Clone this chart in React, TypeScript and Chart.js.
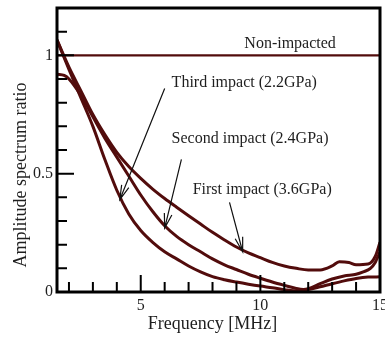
import React, { useEffect, useRef } from "react";
import { Chart, registerables } from "chart.js";

Chart.register(...registerables);

// ---- Data ----
const xRange = [1.5, 15];
const yRange = [0, 1.2];
const xMajorTicks = [5, 10, 15];
const xMinorTicks = [2, 3, 4, 6, 7, 8, 9, 11, 12, 13, 14];
const yMajorTicks = [0, 0.5, 1];
const yMinorTicks = [0.1, 0.2, 0.3, 0.4, 0.6, 0.7, 0.8, 0.9, 1.1];

const nonImpactedFreq = [1.5, 15];
const nonImpactedAmp = [1, 1];

const firstFreq = [1.5, 2, 2.5, 3, 3.5, 4, 4.5, 5, 5.5, 6, 6.5, 7, 7.5, 8, 8.5, 9, 9.5, 10, 10.5, 11, 11.5, 12, 12.5, 13, 13.3, 13.7, 14, 14.5, 14.8, 15];
const firstAmp = [1.065, 0.95, 0.85, 0.75, 0.665, 0.59, 0.53, 0.48, 0.435, 0.395, 0.358, 0.322, 0.287, 0.252, 0.22, 0.19, 0.165, 0.145, 0.125, 0.11, 0.1, 0.093, 0.093, 0.11, 0.128, 0.125, 0.115, 0.118, 0.15, 0.21];

const secondFreq = [1.5, 1.8, 2, 2.5, 3, 3.5, 4, 4.5, 5, 5.5, 6, 6.5, 7, 7.5, 8, 8.5, 9, 9.5, 10, 10.5, 11, 11.5, 11.8, 12, 12.5, 13, 13.5, 14, 14.3, 14.6, 14.8, 15];
const secondAmp = [0.92, 0.915, 0.9, 0.83, 0.74, 0.65, 0.57, 0.49, 0.41, 0.34, 0.28, 0.235, 0.2, 0.17, 0.14, 0.115, 0.095, 0.075, 0.058, 0.042, 0.028, 0.015, 0.011, 0.014, 0.035, 0.055, 0.068, 0.075, 0.085, 0.1, 0.125, 0.17];

const thirdFreq = [1.5, 2, 2.5, 3, 3.5, 4, 4.5, 5, 5.5, 6, 6.5, 7, 7.5, 8, 8.5, 9, 9.5, 10, 10.5, 11, 11.6, 12, 12.5, 13, 13.5, 14, 14.5, 15];
const thirdAmp = [1.065, 0.94, 0.82, 0.7, 0.56, 0.43, 0.33, 0.26, 0.21, 0.17, 0.14, 0.11, 0.085, 0.065, 0.052, 0.042, 0.033, 0.025, 0.018, 0.01, 0.004, 0.01, 0.022, 0.035, 0.047, 0.057, 0.063, 0.064];

// annotations: label text, label anchor (x, y), arrow start (x, y), arrow tip (x, y)
const labelTexts = ["Non-impacted", "Third impact (2.2GPa)", "Second impact (2.4GPa)", "First impact (3.6GPa)"];
const labelX = [9.33, 6.29, 6.29, 7.17];
const labelY = [1.05, 0.882, 0.648, 0.43];
const arrowFromX = [null, 6.0, 6.7, 8.71];
const arrowFromY = [null, 0.86, 0.56, 0.379];
const arrowToX = [null, 4.125, 6.0, 9.26];
const arrowToY = [null, 0.39, 0.27, 0.17];

const xTitle = "Frequency [MHz]";
const yTitle = "Amplitude spectrum ratio";

const curveColor = "#520c0c";
const textColor = "#1e1e1e";
const serif = "'Liberation Serif', 'Times New Roman', serif";

const toPoints = (xs: number[], ys: number[]) => xs.map((x, i) => ({ x, y: ys[i] }));

const framePlugin = {
  id: "frameTicks",
  afterDraw(chart: any) {
    const { ctx, chartArea: a, scales } = chart;
    const xs = scales.x;
    const ys = scales.y;
    ctx.save();
    ctx.strokeStyle = "#000";
    ctx.lineWidth = 2;
    ctx.beginPath();
    for (const v of xMajorTicks) {
      const px = xs.getPixelForValue(v);
      ctx.moveTo(px, a.bottom);
      ctx.lineTo(px, a.bottom - 17);
    }
    for (const v of xMinorTicks) {
      const px = xs.getPixelForValue(v);
      ctx.moveTo(px, a.bottom);
      ctx.lineTo(px, a.bottom - 10);
    }
    for (const v of yMajorTicks) {
      const py = ys.getPixelForValue(v);
      ctx.moveTo(a.left, py);
      ctx.lineTo(a.left + 17, py);
    }
    for (const v of yMinorTicks) {
      const py = ys.getPixelForValue(v);
      ctx.moveTo(a.left, py);
      ctx.lineTo(a.left + 10, py);
    }
    ctx.stroke();
    ctx.lineWidth = 3;
    ctx.strokeRect(a.left, a.top, a.right - a.left, a.bottom - a.top);

    // axis titles
    ctx.fillStyle = textColor;
    ctx.font = `18px ${serif}`;
    ctx.textAlign = "center";
    ctx.textBaseline = "middle";
    ctx.fillText(xTitle, (a.left + a.right) / 2 - 6, a.bottom + 32);
    ctx.save();
    ctx.translate(a.left - 36, (a.top + a.bottom) / 2 + 25);
    ctx.rotate(-Math.PI / 2);
    ctx.fillText(yTitle, 0, 0);
    ctx.restore();

    // annotations
    ctx.font = `16px ${serif}`;
    ctx.textAlign = "left";
    ctx.textBaseline = "middle";
    labelTexts.forEach((t, i) => {
      ctx.fillText(t, xs.getPixelForValue(labelX[i]), ys.getPixelForValue(labelY[i]));
    });
    ctx.strokeStyle = "#111";
    ctx.lineWidth = 1.2;
    labelTexts.forEach((_, i) => {
      const fx = arrowFromX[i];
      if (fx === null) return;
      const x0 = xs.getPixelForValue(fx);
      const y0 = ys.getPixelForValue(arrowFromY[i] as number);
      const x1 = xs.getPixelForValue(arrowToX[i] as number);
      const y1 = ys.getPixelForValue(arrowToY[i] as number);
      const ang = Math.atan2(y1 - y0, x1 - x0);
      const hl = 15;
      const spread = 0.26;
      ctx.beginPath();
      ctx.moveTo(x0, y0);
      ctx.lineTo(x1, y1);
      ctx.moveTo(x1 - hl * Math.cos(ang - spread), y1 - hl * Math.sin(ang - spread));
      ctx.lineTo(x1, y1);
      ctx.lineTo(x1 - hl * Math.cos(ang + spread), y1 - hl * Math.sin(ang + spread));
      ctx.stroke();
    });
    ctx.restore();
  },
};

export default function App() {
  const ref = useRef<HTMLCanvasElement | null>(null);
  useEffect(() => {
    if (!ref.current) return;
    const lineDs = (label: string, xs: number[], ys: number[], width: number) => ({
      label,
      data: toPoints(xs, ys),
      borderColor: curveColor,
      backgroundColor: curveColor,
      borderWidth: width,
      pointRadius: 0,
      tension: 0.4,
      cubicInterpolationMode: "monotone" as const,
      fill: false,
    });
    const chart = new Chart(ref.current, {
      type: "line",
      data: {
        datasets: [
          lineDs("Non-impacted", nonImpactedFreq, nonImpactedAmp, 2.2),
          lineDs("First impact (3.6GPa)", firstFreq, firstAmp, 3),
          lineDs("Second impact (2.4GPa)", secondFreq, secondAmp, 3),
          lineDs("Third impact (2.2GPa)", thirdFreq, thirdAmp, 3),
        ],
      },
      options: {
        animation: false,
        responsive: false,
        layout: { padding: { left: 0, right: 5, top: 8, bottom: 0 } },
        plugins: { legend: { display: false }, tooltip: { enabled: false } },
        scales: {
          x: {
            type: "linear",
            min: xRange[0],
            max: xRange[1],
            grid: { display: false, drawTicks: false },
            border: { display: false },
            ticks: {
              padding: 4,
              font: { family: serif, size: 16 },
              color: textColor,
              maxRotation: 0,
              callback: (v: any) => String(v),
            },
            afterBuildTicks: (s: any) => {
              s.ticks = xMajorTicks.map((value) => ({ value }));
            },
            afterFit: (s: any) => {
              s.height = 45;
              s.paddingLeft = 0;
              s.paddingRight = 0;
            },
          },
          y: {
            type: "linear",
            min: yRange[0],
            max: yRange[1],
            grid: { display: false, drawTicks: false },
            border: { display: false },
            ticks: {
              padding: 4,
              font: { family: serif, size: 16 },
              color: textColor,
              callback: (v: any) => String(v),
            },
            afterBuildTicks: (s: any) => {
              s.ticks = yMajorTicks.map((value) => ({ value }));
            },
            afterFit: (s: any) => {
              s.width = 57;
              s.paddingTop = 0;
              s.paddingBottom = 0;
            },
          },
        },
      },
      plugins: [framePlugin],
    });
    return () => chart.destroy();
  }, []);
  return (
    <div style={{ position: "absolute", left: 0, top: 0, width: 385, height: 337, background: "#fff" }}>
      <canvas ref={ref} width={385} height={337} />
    </div>
  );
}
